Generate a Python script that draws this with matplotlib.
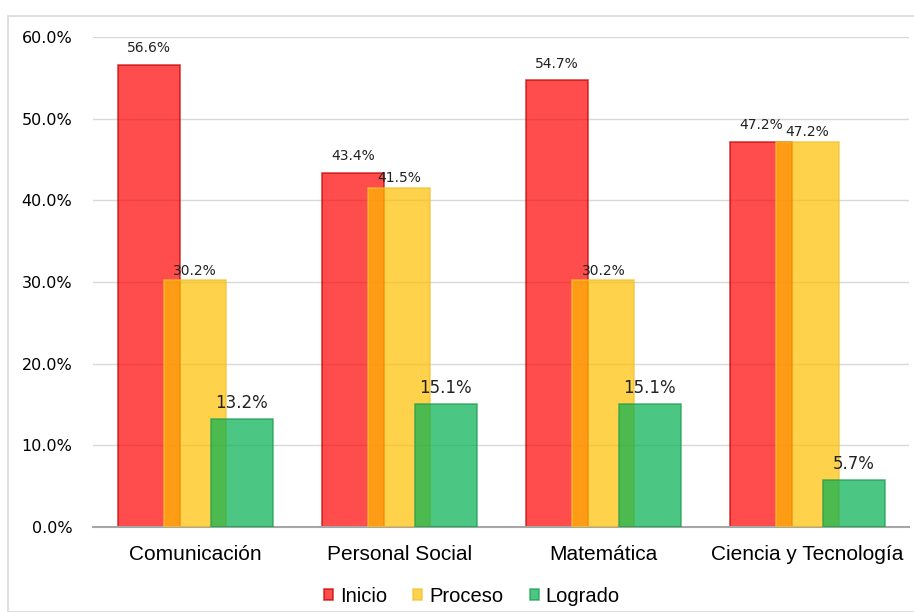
import numpy as np
import matplotlib.pyplot as plt
from matplotlib.patches import Rectangle

# Data
areas = ["Comunicación", "Personal Social", "Matemática", "Ciencia y Tecnología"]
inicio = [56.6, 43.4, 54.7, 47.2]
proceso = [30.2, 41.5, 30.2, 47.2]
logrado = [13.2, 15.1, 15.1, 5.7]
series_names = ["Inicio", "Proceso", "Logrado"]

faces = [(1.0, 0.0, 0.0), (1.0, 0.75, 0.0), (0.0, 0.69, 0.31)]
edges = ["#C00000", "#F2C030", "#1E9E50"]
label_size = [10, 10, 12]
label_off = [7, 2, 5]

fig = plt.figure(figsize=(9.14, 6.12), dpi=100)
ax = fig.add_axes([0.102, 0.139, 0.893, 0.8005])

x = np.arange(len(areas))
width = 0.305
step = 0.228

for i, vals in enumerate([inicio, proceso, logrado]):
	pos = x + (i - 1) * step
	ax.bar(pos, vals, width, color=faces[i], alpha=0.7, edgecolor=edges[i],
		linewidth=1.2, label=series_names[i], zorder=2 + i)
	for p, v in zip(pos, vals):
		ax.annotate(f"{v:.1f}%", (p, v), xytext=(0, label_off[i]),
			textcoords="offset points", ha="center", va="bottom",
			fontsize=label_size[i], color="#222222", zorder=10)

ax.set_ylim(0, 60)
ax.set_xlim(-0.5, len(areas) - 0.5)
ax.set_yticks(np.arange(0, 61, 10))
ax.set_yticklabels([f"{t:.1f}%" for t in np.arange(0, 61, 10)], fontsize=11.5)
ax.set_xticks(x)
ax.set_xticklabels(areas, fontsize=15, family="Liberation Sans")
ax.tick_params(length=0)
ax.tick_params(axis="x", pad=13)
ax.tick_params(axis="y", pad=15)
ax.grid(axis="y", color="#D9D9D9", linewidth=1, zorder=0)
ax.set_axisbelow(True)
for s in ["top", "right", "left"]:
	ax.spines[s].set_visible(False)
ax.spines["bottom"].set_color("#A6A6A6")
ax.spines["bottom"].set_linewidth(1.5)

leg = ax.legend(loc="upper center", bbox_to_anchor=(0.464, -0.085), ncol=3,
	frameon=False, prop={"family": "Liberation Sans", "size": 14.5},
	handlelength=0.45, handleheight=0.45, handletextpad=0.35, columnspacing=1.3)

fig.patches.append(Rectangle((8 / 914, 0), 1, 1 - 16 / 612, transform=fig.transFigure,
	fill=False, edgecolor="#D9D9D9", linewidth=1.2))

plt.savefig("out.png", dpi=100)
